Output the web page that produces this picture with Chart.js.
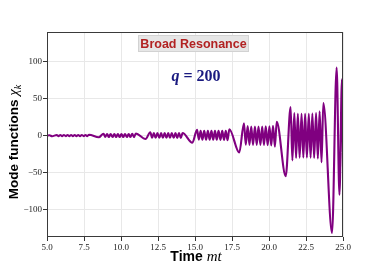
<!DOCTYPE html>
<html>
<head>
<meta charset="utf-8">
<script src="https://cdn.jsdelivr.net/npm/chart.js@4.4.1/dist/chart.umd.min.js"></script>
<style>
  body { margin: 0; background: #fff; }
  #wrap { width: 382px; height: 268px; }
</style>
</head>
<body>
<div id="wrap"><canvas id="myChart" width="382" height="268"></canvas></div>
<script>
// time mt (peaks / troughs)
const timeMT = [
  5.00, 5.17, 5.34,
  5.66, 5.78, 5.90, 6.02, 6.14, 6.27, 6.39, 6.51, 6.63, 6.75, 6.87, 6.99, 7.11, 7.23, 7.35, 7.48, 7.60, 7.72, 7.84,
  8.50,
  8.82, 8.94, 9.06, 9.18, 9.30, 9.43, 9.55, 9.67, 9.79, 9.91, 10.03, 10.15, 10.27, 10.40, 10.52, 10.64, 10.76, 10.88, 11.00,
  11.66,
  11.98, 12.10, 12.22, 12.34, 12.46, 12.59, 12.71, 12.83, 12.95, 13.07, 13.19, 13.31, 13.43, 13.56, 13.68, 13.80, 13.92, 14.04, 14.16,
  14.82,
  15.14, 15.26, 15.38, 15.50, 15.62, 15.75, 15.87, 15.99, 16.11, 16.23, 16.35, 16.47, 16.59, 16.72, 16.84, 16.96, 17.08, 17.20, 17.32,
  17.99,
  18.31, 18.43, 18.56, 18.68, 18.80, 18.92, 19.05, 19.17, 19.29, 19.42, 19.54, 19.66, 19.78, 19.91, 20.03, 20.15, 20.27, 20.40, 20.52,
  21.13,
  21.46, 21.58, 21.71, 21.83, 21.95, 22.07, 22.20, 22.32, 22.44, 22.56, 22.69, 22.81, 22.93, 23.05, 23.18, 23.30, 23.42, 23.55, 23.67,
  24.26, 24.57, 24.76, 24.93, 25.00
];

// mode function chi_k
const chiK = [
  0.0, 0.5, -0.8,
  0.8, -0.7, 0.8, -0.7, 0.8, -0.7, 0.8, -0.7, 0.8, -0.7, 0.8, -0.7, 0.8, -0.7, 0.8, -0.7, 0.8, -0.8, 1.2,
  -2.3,
  2.6, -1.8, 2.2, -1.9, 2.2, -1.9, 2.2, -1.9, 2.2, -1.9, 2.2, -1.9, 2.2, -1.9, 2.2, -1.9, 2.3, -2.0, 2.9,
  -4.6,
  4.6, -2.8, 3.4, -2.9, 3.3, -2.9, 3.3, -2.9, 3.3, -2.9, 3.3, -2.9, 3.3, -2.9, 3.4, -3.0, 3.4, -3.2, 3.6,
  -9.6,
  7.8, -5.4, 6.6, -5.6, 6.4, -5.6, 6.4, -5.6, 6.4, -5.6, 6.4, -5.6, 6.4, -5.7, 6.5, -5.8, 6.6, -6.3, 8.6,
  -22.8,
  16.6, -12.4, 12.8, -12.6, 12.4, -12.6, 12.4, -12.6, 12.4, -12.6, 12.4, -12.6, 12.5, -12.8, 12.7, -13.2, 13.2, -15.0, 18.8,
  -54.8,
  38.6, -33.6, 30.5, -30.2, 29.6, -29.8, 29.4, -29.6, 29.4, -29.6, 29.5, -29.8, 29.8, -30.2, 30.5, -31.0, 33.0, -36.0, 44.0,
  -131.5, 92.0, -80.0, 76.0, -42.0
];

const xTicks = [5, 7.5, 10, 12.5, 15, 17.5, 20, 22.5, 25];
const yTicks = [-100, -50, 0, 50, 100];

const SANS = '"Liberation Sans", Arial, sans-serif';
const SERIF = '"Liberation Serif", "DejaVu Serif", serif';

// draw a row of text pieces centred on (0, 0) of the current transform
function drawRuns(ctx, runs) {
  let total = 0;
  runs.forEach(r => { ctx.font = r.font; r.w = ctx.measureText(r.text).width; total += r.w; });
  let x = -total / 2;
  runs.forEach(r => {
    ctx.font = r.font;
    ctx.fillText(r.text, x, r.dy || 0);
    x += r.w;
  });
}

const overlay = {
  id: 'overlay',
  afterDraw(chart) {
    const { ctx, chartArea: a } = chart;
    ctx.save();

    // box round the axes
    ctx.strokeStyle = '#3a3a3a';
    ctx.lineWidth = 1;
    ctx.strokeRect(a.left + 0.5, a.top + 0.5, a.right - a.left - 1, a.bottom - a.top - 1);

    // "Broad Resonance" label box
    ctx.fillStyle = '#e6e6e6';
    ctx.strokeStyle = '#d2d2d2';
    ctx.fillRect(138, 35, 111, 17);
    ctx.strokeRect(138.5, 35.5, 110, 16);
    ctx.fillStyle = '#b22222';
    ctx.textBaseline = 'alphabetic';
    ctx.save();
    ctx.translate(193.5, 48);
    drawRuns(ctx, [{ text: 'Broad Resonance', font: 'bold 12.5px ' + SANS }]);
    ctx.restore();

    // q = 200
    ctx.fillStyle = '#1a1a80';
    ctx.save();
    ctx.translate(196, 81);
    drawRuns(ctx, [
      { text: 'q', font: 'bold italic 16px ' + SERIF },
      { text: ' = 200', font: 'bold 16px ' + SERIF }
    ]);
    ctx.restore();

    // axis titles
    ctx.fillStyle = '#000';
    ctx.save();
    ctx.translate(196, 261);
    drawRuns(ctx, [
      { text: 'Time ', font: 'bold 14px ' + SANS },
      { text: 'mt', font: 'italic 15px ' + SERIF }
    ]);
    ctx.restore();

    ctx.save();
    ctx.translate(18, 142);
    ctx.rotate(-Math.PI / 2);
    drawRuns(ctx, [
      { text: 'Mode functions ', font: 'bold 13.5px ' + SANS },
      { text: 'χ', font: 'italic 15px ' + SERIF },
      { text: 'k', font: 'italic 10px ' + SERIF, dy: 3 }
    ]);
    ctx.restore();

    ctx.restore();
  }
};

const ctx = document.getElementById('myChart').getContext('2d');

const myChart = new Chart(ctx, {
  type: 'line',
  data: {
    datasets: [{
      data: timeMT.map((t, i) => ({ x: t, y: chiK[i] })),
      borderColor: '#800080',
      borderWidth: 2.1,
      pointRadius: 0,
      cubicInterpolationMode: 'monotone',
      fill: false
    }]
  },
  options: {
    responsive: false,
    animation: false,
    layout: {
      padding: { left: 0, top: 32, right: 39, bottom: 0 }
    },
    plugins: {
      legend: { display: false },
      tooltip: { enabled: false }
    },
    scales: {
      x: {
        type: 'linear',
        min: 5,
        max: 25,
        afterBuildTicks: (scale) => { scale.ticks = xTicks.map(v => ({ value: v })); },
        afterFit: (scale) => { scale.height = 31; },
        grid: { color: '#e8e8e8', tickColor: '#333', tickLength: 4 },
        border: { display: false },
        ticks: {
          color: '#222',
          padding: 1,
          maxRotation: 0,
          font: { size: 9, family: SERIF },
          callback: (v) => Number(v).toFixed(1)
        }
      },
      y: {
        min: -137,
        max: 140,
        afterBuildTicks: (scale) => { scale.ticks = yTicks.map(v => ({ value: v })); },
        afterFit: (scale) => { scale.width = 47; },
        grid: { color: '#e8e8e8', tickColor: '#333', tickLength: 4 },
        border: { display: false },
        ticks: {
          color: '#222',
          padding: 1,
          font: { size: 9, family: SERIF },
          callback: (v) => v < 0 ? '\u2212' + Math.abs(v) : String(v)
        }
      }
    }
  },
  plugins: [overlay]
});
</script>
</body>
</html>
